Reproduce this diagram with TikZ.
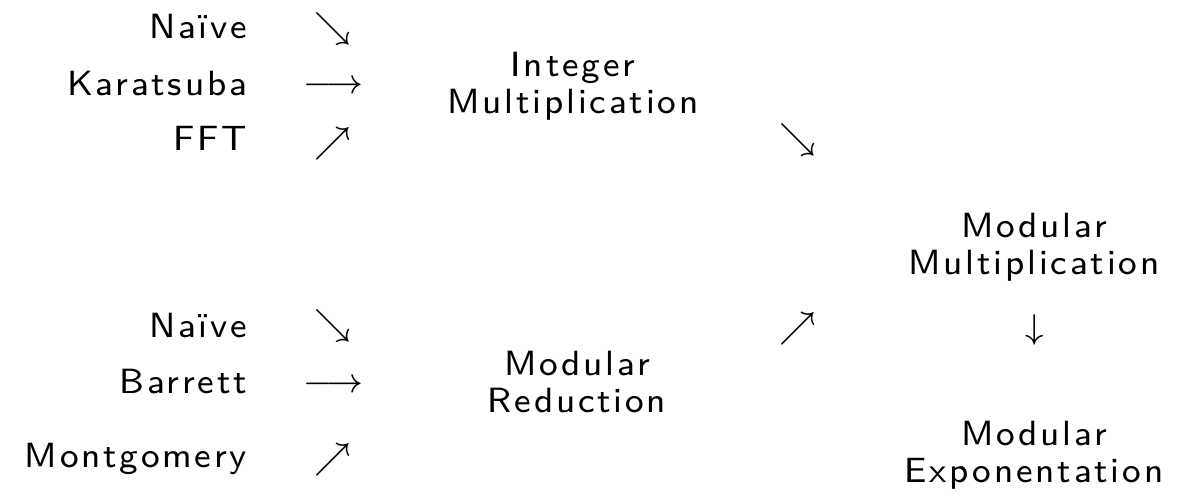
\documentclass[tikz,border=0pt]{standalone}
\usepackage{fontspec}
% tracked small-size sans for all labels
\newfontfamily\lblfont{lmsans8-regular.otf}[LetterSpace=8]
\begin{document}
\begin{tikzpicture}[x=0.2312pt, y=-0.2312pt,
  lbl/.style={inner sep=0pt, outer sep=0pt, font=\fontsize{8.1}{8.55}\selectfont\lblfont},
  src/.style={lbl, anchor=base east},
  stage/.style={lbl, anchor=base, align=center},
  arr/.style={inner sep=0pt, outer sep=0pt, font=\fontsize{8}{8.55}\selectfont, anchor=center}]
\useasboundingbox (0,0) rectangle (1184,495);

% multiplication algorithms
\node[src] (naiveA) at (247,38)  {Naïve};
\node[src] (kara)   at (247,95)  {Karatsuba};
\node[src] (fft)    at (247,150) {FFT};
\node[arr] (aNaiveA) at (332.5,29.5)  {$\searrow$};
\node[arr] (aKara)   at (333.5,87)    {$\longrightarrow$};
\node[arr] (aFft)    at (332.5,142.5) {$\nearrow$};
\node[stage] (intmul) at (573,113) {Integer\\Multiplication};

% reduction algorithms
\node[src] (naiveB) at (247,337) {Naïve};
\node[src] (barr)   at (247,393) {Barrett};
\node[src] (mont)   at (247,467) {Montgomery};
\node[arr] (aNaiveB) at (332.5,326.5) {$\searrow$};
\node[arr] (aBarr)   at (333.5,386)   {$\longrightarrow$};
\node[arr] (aMont)   at (332.5,459)   {$\nearrow$};
\node[stage] (modred) at (577,412) {Modular\\Reduction};

% combined stages
\node[arr] (aIntMul) at (798,141) {$\searrow$};
\node[arr] (aModRed) at (798,328) {$\nearrow$};
\node[stage] (modmul) at (1034,274) {Modular\\Multiplication};
\node[arr] (aModMul) at (1035,330) {$\downarrow$};
\node[stage] (modexp) at (1034,482) {Modular\\Exponentation};
\end{tikzpicture}
\end{document}
